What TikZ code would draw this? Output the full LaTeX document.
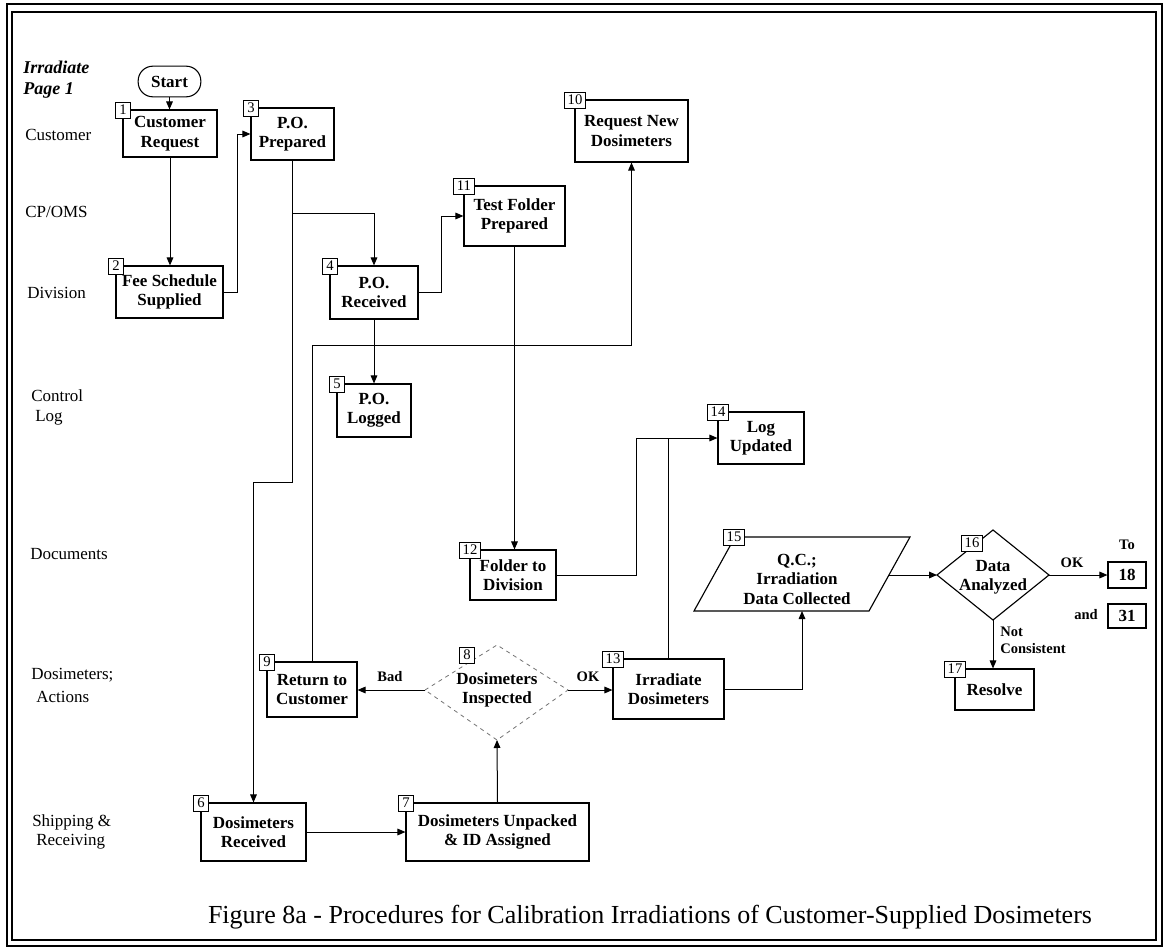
\documentclass[tikz,border=0pt]{standalone}
\usepackage{fontspec}
\setmainfont{Liberation Serif}
\usetikzlibrary{arrows.meta,fit,calc}
\newcommand\myboxfont{\fontsize{12.75}{14.6}\selectfont\bfseries}
\newcommand\mynumfont{\fontsize{11}{12}\selectfont}
\newcommand\mylanefont{\fontsize{12.75}{15}\selectfont}
\newcommand\mylblfont{\fontsize{10.9}{12.6}\selectfont\bfseries}
\newcommand\mycapfont{\fontsize{19.5}{22}\selectfont}
\newcommand\pbox[7]{%
  \node[procbox, fit={(#2,#3) (#4,#5)}] (#1) {};
  \node[boxtext] (#1t) at (#1.center) {#7};
  \node[numbox] (#1n) at (#2,#3) {#6};
}
\begin{document}
\begin{tikzpicture}[x=0.75pt,y=-0.75pt,
  procbox/.style={draw, line width=0.85pt, inner sep=0pt},
  boxtext/.style={inner sep=0pt, align=center, font=\myboxfont},
  numbox/.style={draw, fill=white, line width=0.7pt, inner xsep=2.3pt, inner ysep=0.5pt,
                 minimum width=11.25pt, minimum height=12pt, font=\mynumfont},
  conn/.style={line width=0.75pt},
  arr/.style={conn, -{Triangle[length=6pt,width=5pt]}},
  lane/.style={anchor=west, inner sep=0pt, font=\mylanefont},
  lbl/.style={inner sep=0pt, font=\mylblfont},
  faint/.style={line width=0.6pt, draw=black!55, dash pattern=on 3pt off 3pt},
]
\useasboundingbox (0,0) rectangle (1171,949);
% frame
\draw[line width=2.2pt] (7,4) rectangle (1162,946);
\draw[line width=0.8pt] (12,12) rectangle (1156,940);

% lane labels
\node[anchor=west, inner sep=0pt, align=left, font=\fontsize{13.5}{15.75}\selectfont\bfseries\itshape] (title) at (23,80) {Irradiate\\Page 1};
\node[lane] (l1) at (25,135) {Customer};
\node[lane] (l2) at (25,212) {CP/OMS};
\node[lane] (l3) at (27,293) {Division};
\node[lane] (l4a) at (31,396) {Control};
\node[lane] (l4b) at (35,418) {Log};
\node[lane] (l5) at (30,554) {Documents};
\node[lane] (l6a) at (31,675) {Dosimeters;};
\node[lane] (l6b) at (36,697) {Actions};
\node[lane] (l7a) at (32,822) {Shipping \&};
\node[lane] (l7b) at (36,842) {Receiving};

% start
\node[draw, line width=0.8pt, rounded corners=11pt, minimum width=47pt, minimum height=23pt,
      inner sep=0pt, font=\myboxfont] (start) at (169.5,81.5) {Start};

% boxes
\pbox{b1}{123}{110}{217}{157}{1}{Customer\\Request}
\pbox{b2}{116}{266}{223}{318}{2}{Fee Schedule\\Supplied}
\pbox{b3}{251}{108}{334}{160}{3}{P.O.\\Prepared}
\pbox{b4}{330}{266}{418}{319}{4}{P.O.\\Received}
\pbox{b5}{337}{384}{411}{437}{5}{P.O.\\Logged}
\pbox{b6}{201}{803}{306}{861}{6}{Dosimeters\\Received}
\pbox{b7}{406}{803}{589}{861}{7}{Dosimeters Unpacked\\\& ID Assigned}
\pbox{b9}{267}{662}{357}{717}{9}{Return to\\Customer}
\pbox{b10}{575}{100}{688}{162}{10}{Request New\\Dosimeters}
\pbox{b11}{464}{186}{565}{246}{11}{Test Folder\\Prepared}
\pbox{b12}{470}{550}{556}{600}{12}{Folder to\\Division}
\pbox{b13}{613}{659}{724}{719}{13}{Irradiate\\Dosimeters}
\pbox{b14}{718}{412}{804}{464}{14}{Log\\Updated}
\pbox{b17}{955}{669}{1034}{710}{17}{Resolve}
\node[procbox, fit={(1108,562) (1146,588)}] (b18) {};
\node[boxtext] (b18t) at (b18.center) {18};
\node[procbox, fit={(1108,604) (1146,628)}] (b31) {};
\node[boxtext] (b31t) at (b31.center) {31};

% diamond 8
\coordinate (d8w) at (425,690);
\coordinate (d8e) at (568,690);
\coordinate (d8n) at (497,645);
\coordinate (d8s) at (497,740);
\draw[faint] (d8w) -- (d8n) -- (d8e) -- (d8s) -- cycle;
\node[boxtext] (d8) at (497,690) {Dosimeters\\Inspected};
\node[numbox] (d8num) at (467,655) {8};

% parallelogram 15
\coordinate (p15tl) at (735,537);
\coordinate (p15tr) at (910,537);
\coordinate (p15br) at (869,611);
\coordinate (p15bl) at (694,611);
\draw[line width=0.85pt] (p15bl) -- (p15tl) -- (p15tr) -- (p15br) -- cycle;
\node[boxtext] (p15) at (797,579) {Q.C.;\\Irradiation\\Data Collected};
\node[numbox] (p15num) at (734,537) {15};
\coordinate (p15b) at (802,611);
\coordinate (p15r) at (889,575);

% diamond 16
\coordinate (d16w) at (937,575);
\coordinate (d16e) at (1049,575);
\coordinate (d16n) at (993,530);
\coordinate (d16s) at (993,620);
\draw[line width=0.85pt] (d16w) -- (d16n) -- (d16e) -- (d16s) -- cycle;
\node[boxtext] (d16) at (993,577) {Data\\Analyzed};
\node[numbox] (d16num) at (972,543) {16};

% junction coordinates
\coordinate (j3a) at (292.5,213);
\coordinate (j3b) at (292.5,482);
\coordinate (j3c) at (253.5,482);
\coordinate (j9) at (312,345);

% connectors
\draw[arr] (start.south) -- (start.south |- b1.north);
\draw[arr] (b1.south) -- (b1.south |- b2.north);
\draw[arr] (b2.east) -- ++(14,0) |- (b3.west);
\draw[conn] (b3.south) -- (j3a);
\draw[arr] (j3a) -| (b4.north);
\draw[arr] (j3a) -- (j3b) -- (j3c) -- (b6.north);
\draw[arr] (b4.east) -- ++(23,0) |- (b11.west);
\draw[arr] (b4.south) -- (b4.south |- b5.north);
\draw[arr] (b9.north) -- (j9) -| (b10.south);
\draw[arr] (b11.south) -- (b11.south |- b12.north);
\draw[arr] (b12.east) -- ++(80,0) |- (b14.west);
\draw[conn] (b13.north) -- (b13.north |- b14.west);
\draw[arr] (b13.east) -| (p15b);
\draw[arr] (p15r) -- (d16w);
\draw[arr] (d16e) -- (d16e -| b18.west);
\draw[arr] (d16s) -- (d16s |- b17.north);
\draw[arr] (d8w) -- (d8w -| b9.east);
\draw[arr] (d8e) -- (d8e -| b13.west);
\draw[arr] (b7.north) -- (d8s);
\draw[arr] (b6.east) -- (b6.east -| b7.west);

% labels
\node[lbl] (bad) at (390,677) {Bad};
\node[lbl] (ok1) at (588,677) {OK};
\node[lbl] (ok2) at (1072,563) {OK};
\node[lbl] (to) at (1127,545) {To};
\node[lbl] (and) at (1086,615) {and};
\node[lbl, anchor=west] (nc1) at (1000,632) {Not};
\node[lbl, anchor=west] (nc2) at (1000,649) {Consistent};

% caption
\node[inner sep=0pt, font=\mycapfont] (caption) at (650,917) {Figure 8a - Procedures for Calibration Irradiations of Customer-Supplied Dosimeters};
\end{tikzpicture}
\end{document}
